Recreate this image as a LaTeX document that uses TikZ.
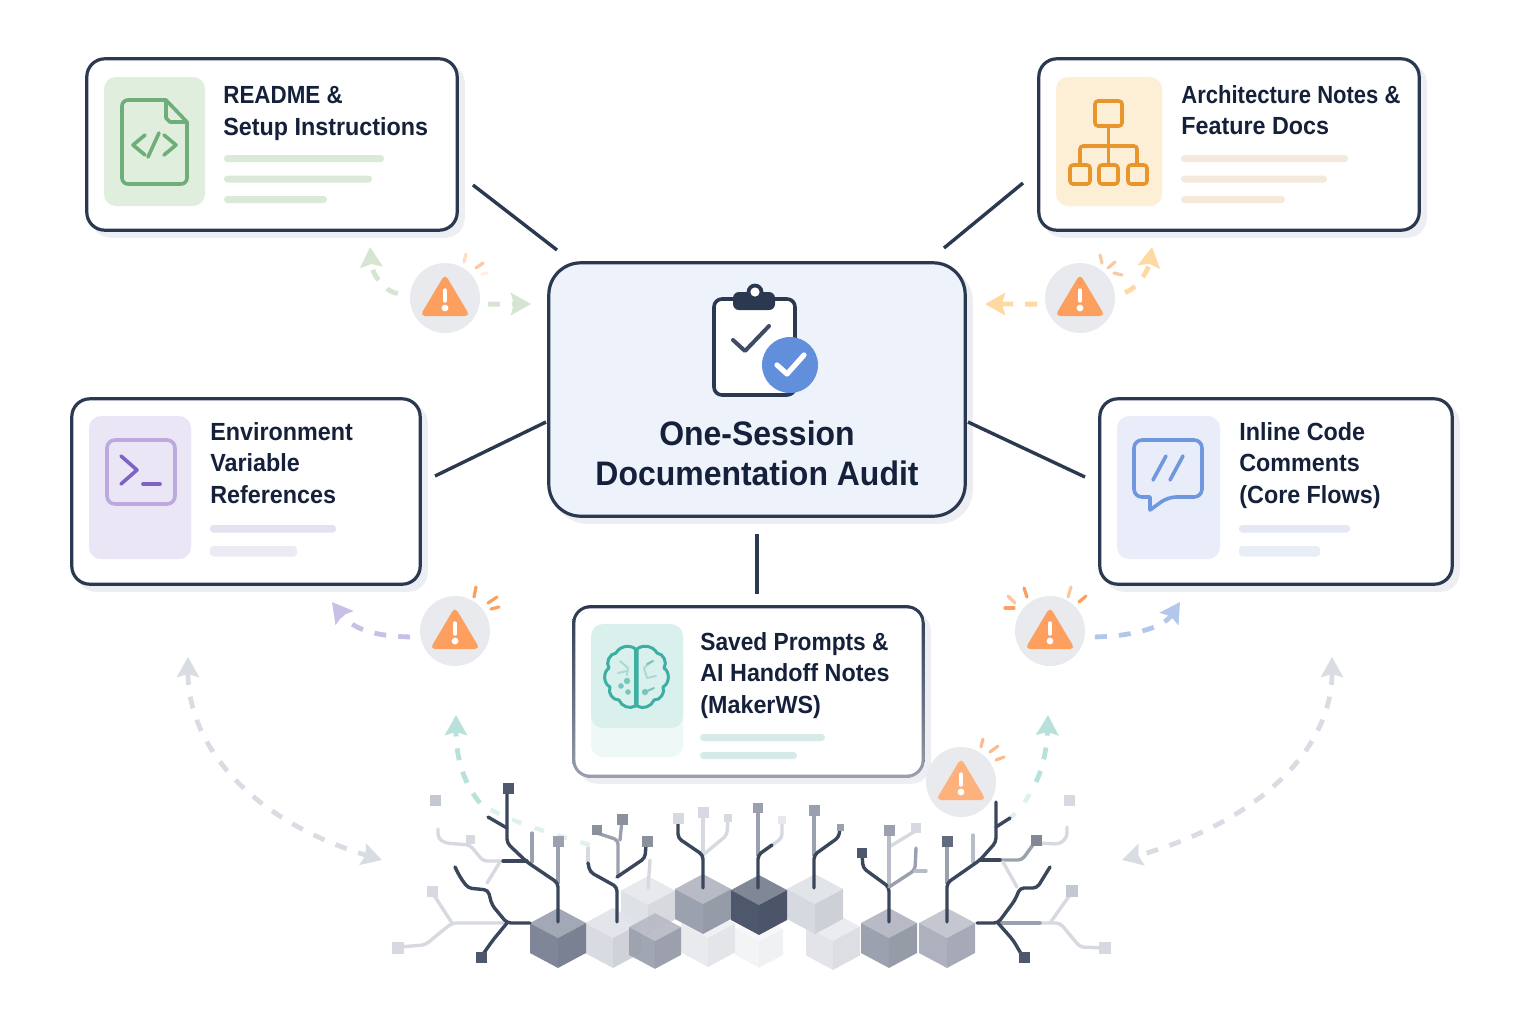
\documentclass[tikz,border=0pt]{standalone}
\usepackage{fontspec}
\setmainfont{Liberation Sans}[FakeStretch=0.94]
\usetikzlibrary{arrows.meta,shadows}
\definecolor{navy}{HTML}{2A3850}
\definecolor{inktext}{HTML}{15213A}
\definecolor{auditfill}{HTML}{EEF2FB}
\definecolor{cardshade}{HTML}{ECEEF3}
\definecolor{badgegray}{HTML}{E8EAEE}
\definecolor{warnorange}{HTML}{FD9F5E}
\definecolor{rayorange}{HTML}{FBC8A2}
\definecolor{leafgreen}{HTML}{6FAE78}
\definecolor{tilegreen}{HTML}{DFEEDD}
\definecolor{bargreen}{HTML}{DBE9D8}
\definecolor{flowgreen}{HTML}{D5E5D2}
\definecolor{amber}{HTML}{E8952B}
\definecolor{tileamber}{HTML}{FDEFD6}
\definecolor{baramber}{HTML}{F4E9DA}
\definecolor{flowamber}{HTML}{FED9A2}
\definecolor{violet}{HTML}{7F63C4}
\definecolor{violetsoft}{HTML}{BBA9E0}
\definecolor{tileviolet}{HTML}{EBE6F6}
\definecolor{barviolet}{HTML}{E4E2EF}
\definecolor{flowviolet}{HTML}{C9BFE7}
\definecolor{skyblue}{HTML}{6F97DE}
\definecolor{tilesky}{HTML}{E8EDF9}
\definecolor{barsky}{HTML}{E3E8F3}
\definecolor{flowsky}{HTML}{B2C7EB}
\definecolor{teal}{HTML}{3DAEA2}
\definecolor{tileteal}{HTML}{DAF0ED}
\definecolor{barteal}{HTML}{D6EBE8}
\definecolor{flowteal}{HTML}{B8E1DB}
\definecolor{flowgray}{HTML}{D9DCE3}
\definecolor{checkblue}{HTML}{618FDC}
\definecolor{twigdark}{HTML}{3A465C}
\definecolor{twigmid}{HTML}{9AA0AE}
\definecolor{twiglight}{HTML}{D6D9E0}
\definecolor{cubedark}{HTML}{4E586C}
\definecolor{cubeslate}{HTML}{7E8698}
\definecolor{cubemid}{HTML}{9CA1AF}
\definecolor{cubesoft}{HTML}{ADB1BE}
\tikzset{
  card/.style={draw=navy,fill=white,line width=1.6pt,rounded corners=9pt,inner sep=0pt,
    copy shadow={shadow xshift=3pt,shadow yshift=-3pt,fill=cardshade,draw=cardshade}},
  cardtext/.style={inner sep=0pt,align=left,text=inktext,font=\bfseries\fontsize{12.4}{15.75}\selectfont},
  link/.style={draw=navy,line width=1.7pt},
  flow/.style={line width=2.4pt,dash pattern=on 6pt off 6pt,-{Stealth[inset=1.5pt,length=10pt,width=11pt]}},
  flowtail/.style={line width=2.2pt,dash pattern=on 5pt off 7pt},
  badge/.style={circle,fill=badgegray,minimum size=35pt,inner sep=0pt},
  ray/.style={draw=rayorange,line width=1.6pt,line cap=round},
  twig/.style={line width=1.7pt,line join=round,line cap=round,rounded corners=2pt},
  iconline/.style={line width=1.8pt,line join=round,line cap=round}
}
\newcommand{\cubeblock}[5]{% x, y, half width, colour, opacity
  \fill[#4!72!white,opacity=#5] (#1,{#2-1.07*#3}) -- ({#1+#3},{#2-.535*#3}) -- (#1,#2) -- ({#1-#3},{#2-.535*#3}) -- cycle;
  \fill[#4,opacity=#5] ({#1-#3},{#2-.535*#3}) -- (#1,#2) -- (#1,{#2+1.07*#3}) -- ({#1-#3},{#2+.535*#3}) -- cycle;
  \fill[#4!96!black,opacity=#5] ({#1+#3},{#2-.535*#3}) -- (#1,#2) -- (#1,{#2+1.07*#3}) -- ({#1+#3},{#2+.535*#3}) -- cycle;
}
\newcommand{\leafbox}[4]{\fill[#1] ({#2-#4},{#3-#4}) rectangle ({#2+#4},{#3+#4});}
\newcommand{\warnmark}[3]{% triangle colour, badge centre
  \fill[#1,rounded corners=2.5pt] (#2,#3-24) -- (#2+25,#3+18) -- (#2-25,#3+18) -- cycle;
  \draw[white,line width=1.7pt,line cap=round] (#2,#3-8) -- (#2,#3+3);
  \fill[white] (#2,#3+10) circle (1.7pt);
}
\begin{document}
\begin{tikzpicture}[x=0.5pt,y=-0.5pt]
\useasboundingbox (0,0) rectangle (1536,1024);

% flows behind everything
\coordinate (leftfar) at (188,657); \coordinate (leftgrid) at (382,860);
\coordinate (rightfar) at (1332,657); \coordinate (rightgrid) at (1122,860);
\draw[flow,flowgray,{Stealth[inset=1.5pt,length=10pt,width=11pt]}-{Stealth[inset=1.5pt,length=10pt,width=11pt]}] (leftfar) .. controls (188,745) and (250,820) .. (leftgrid);
\draw[flow,flowgray,{Stealth[inset=1.5pt,length=10pt,width=11pt]}-{Stealth[inset=1.5pt,length=10pt,width=11pt]}] (rightfar) .. controls (1332,745) and (1265,820) .. (rightgrid);
\coordinate (tealleft) at (456,715); \coordinate (tealleftmid) at (480,803); \coordinate (tealleftend) at (590,845);
\coordinate (tealright) at (1048,715); \coordinate (tealrightmid) at (1036,782); \coordinate (tealrightend) at (1008,820);
\draw[flow,flowteal] (tealleftmid) .. controls (465,785) and (456,760) .. (tealleft);
\draw[flowtail,flowteal!45] (tealleftend) .. controls (540,830) and (505,820) .. (tealleftmid);
\draw[flow,flowteal] (tealrightmid) .. controls (1044,765) and (1047,745) .. (tealright);
\draw[flowtail,flowteal!45] (tealrightend) .. controls (1022,808) and (1030,795) .. (tealrightmid);

% cubes
\begin{scope}
\cubeblock{708}{938}{27}{twiglight}{.55}
\cubeblock{759}{942}{24}{twiglight}{.3}
\cubeblock{833}{941}{27}{twiglight}{.7}
\cubeblock{648}{905}{27}{twiglight}{.8}
\cubeblock{613}{938}{28}{twiglight}{.95}
\cubeblock{655}{941}{26}{cubemid}{.95}
\cubeblock{703}{904}{28}{cubemid}{1}
\cubeblock{815}{904}{28}{twiglight}{1}
\cubeblock{759}{905}{28}{cubedark}{1}
\cubeblock{558}{938}{28}{cubeslate}{1}
\cubeblock{889}{938}{28}{cubemid}{1}
\cubeblock{947}{938}{28}{cubesoft}{1}
\end{scope}

% left side twigs
\begin{scope}
\draw[twig,twiglight] (503,861) -- (483,861) -- (470,845) -- (445,843) -- (438,838) -- (438,829);
\draw[twig,twiglight] (500,862) -- (487,883);
\draw[twig,twiglight] (507,923) -- (452,923) -- (425,945) -- (398,947);
\draw[twig,twiglight] (452,923) -- (432,892);
\draw[twig,twigmid] (532,862) -- (532,833);
\draw[twig,twigmid] (558,883) -- (558,845);
\draw[twig,twigdark] (558,922) -- (558,883) -- (527,862) -- (507,843) -- (507,793);
\draw[twig,twigdark] (507,828) -- (488,817);
\draw[twig,twigdark] (527,861) -- (503,861);
\draw[twig,twigdark] (530,923) -- (507,923) -- (492,905) -- (488,890) -- (468,888) -- (460,877) -- (455,867);
\draw[twig,twigdark] (507,923) -- (493,940) -- (481,957);
\leafbox{twigdark!90}{508}{788}{5.5} \leafbox{twigmid}{558}{841}{5.5} \leafbox{twiglight}{470}{839}{4.5}
\leafbox{twiglight!70!twigmid}{435}{800}{5.5} \leafbox{twiglight}{432}{891}{5.5} \leafbox{twiglight}{398}{948}{6}
\leafbox{twigdark!90}{481}{957}{5.5}
\end{scope}

% twigs over the cubes
\begin{scope}
\draw[twig,twigmid] (618,877) -- (618,840) -- (597,833);
\draw[twig,twigmid] (620,840) -- (622,820);
\draw[twig,twiglight] (588,863) -- (588,848);
\draw[twig,twigdark] (617,922) -- (617,887) -- (590,872) -- (588,863);
\draw[twig,twigdark] (617,877) -- (645,858) -- (646,845);
\draw[twig,twiglight] (648,888) -- (650,860);
\draw[twig,twiglight] (703,855) -- (727,835) -- (728,818);
\draw[twig,twiglight] (703,855) -- (703,812);
\draw[twig,twigdark] (703,888) -- (703,855) -- (678,838) -- (678,818);
\draw[twig,twiglight] (758,855) -- (782,838) -- (782,820);
\draw[twig,twigmid] (758,855) -- (758,808);
\draw[twig,twigdark] (758,888) -- (758,855) -- (772,845);
\draw[twig,twigmid] (814,855) -- (814,810);
\draw[twig,twigdark] (814,888) -- (814,855) -- (839,837) -- (840,827);
\leafbox{twigmid!90!black}{597}{830}{5} \leafbox{twigmid!90!black}{622}{819}{5.5} \leafbox{twigmid!90!black}{647}{841}{5.5}
\leafbox{twiglight}{678}{818}{5.5} \leafbox{twiglight}{703}{812}{5.5} \leafbox{twiglight}{728}{818}{4}
\leafbox{twigmid}{758}{808}{5} \leafbox{twiglight!60}{782}{820}{4} \leafbox{twigmid}{814}{810}{5.5}
\leafbox{twigmid}{840}{827}{3.5}
\end{scope}

% right side twigs
\begin{scope}
\draw[twig,twiglight] (889,847) -- (917,830);
\draw[twig,twigmid!70!white] (889,887) -- (889,830);
\draw[twig,twigdark] (889,922) -- (889,887) -- (863,868) -- (862,853);
\draw[twig,twigmid] (889,887) -- (915,870) -- (916,848);
\draw[twig,twigmid!70!white] (915,871) -- (926,871);
\draw[twig,twigmid] (947,883) -- (947,842);
\draw[twig,twigmid!70!white] (973,862) -- (973,835);
\draw[twig,twigdark] (947,922) -- (947,883) -- (980,860) -- (996,842) -- (996,802);
\draw[twig,twigdark] (996,827) -- (1010,818);
\draw[twig,twiglight] (1036,843) -- (1060,844) -- (1067,837) -- (1067,827);
\draw[twig,twigmid] (1000,860) -- (1022,860) -- (1035,842);
\draw[twig,twigdark] (980,860) -- (1000,860);
\draw[twig,twiglight] (1003,862) -- (1017,887);
\draw[twig,twiglight] (1050,923) -- (1072,892);
\draw[twig,twiglight] (1040,923) -- (1060,923) -- (1080,947) -- (1105,948);
\draw[twig,twigmid] (998,923) -- (1040,923);
\draw[twig,twigdark] (977,923) -- (998,923) -- (1015,900) -- (1020,888) -- (1037,888) -- (1050,867);
\draw[twig,twigdark] (998,923) -- (1013,940) -- (1023,957);
\leafbox{twigdark!90}{862}{853}{5} \leafbox{twigmid}{889}{830}{5.5} \leafbox{twiglight}{916}{828}{5}
\leafbox{twigdark!80}{947}{841}{5.5} \leafbox{twigmid!85!black}{1036}{840}{5.5} \leafbox{twiglight}{1069}{800}{5.5}
\leafbox{twiglight!70!twigmid}{1072}{891}{6} \leafbox{twiglight}{1105}{948}{6} \leafbox{twigdark!90}{1024}{957}{5.5}
\end{scope}

% the cards
\node[card,minimum width=185.2pt,minimum height=85.7pt] (readme) at (272,144.5) {};
\node[card,minimum width=190.2pt,minimum height=85.7pt] (archnotes) at (1229,144.5) {};
\node[card,minimum width=174.2pt,minimum height=92.7pt] (envrefs) at (246,491.5) {};
\node[card,minimum width=176.2pt,minimum height=92.7pt] (inlinedocs) at (1276,491.5) {};
\node[card,minimum width=174.7pt,minimum height=84.7pt] (saved) at (748.5,691.5) {};
\node[card,fill=auditfill,minimum width=208.2pt,minimum height=126.7pt,rounded corners=16pt] (audit) at (757,389.5) {};

% border of the saved card fades out downwards
\shade[top color=navy,bottom color=twigmid,rounded corners=9pt] (572.2,605.2) rectangle (924.8,777.8);
\fill[white,rounded corners=7.4pt] (575.4,608.4) rectangle (921.6,774.6);

% tiles and bars
\fill[tilegreen,rounded corners=6pt] (104,77) rectangle (205,206);
\fill[tileamber,rounded corners=6pt] (1056,77) rectangle (1162,206);
\fill[tileviolet,rounded corners=6pt] (89,416) rectangle (191,559);
\fill[tilesky,rounded corners=6pt] (1117,416) rectangle (1220,559);
\fill[tileteal!45,rounded corners=6pt] (591,650) rectangle (683,757);
\fill[tileteal,rounded corners=6pt] (591,624) rectangle (683,728);
\begin{scope}[rounded corners=1.7pt]
\fill[bargreen] (224,155) rectangle (384,162); \fill[bargreen] (224,175.5) rectangle (372,182.5); \fill[bargreen] (224,196) rectangle (327,203);
\fill[baramber] (1181,155) rectangle (1348,162); \fill[baramber] (1181,175.5) rectangle (1327,182.5); \fill[baramber] (1181,196) rectangle (1285,203);
\fill[barviolet] (210,525) rectangle (336,532.5); \fill[barviolet!70] (210,546) rectangle (297,556.5);
\fill[barsky] (1239,525) rectangle (1350,532.5); \fill[barsky!80] (1239,546) rectangle (1320,556.5);
\fill[barteal] (700,734) rectangle (825,741); \fill[barteal] (700,752) rectangle (797,759);
\end{scope}

% card texts
\node[cardtext,anchor=north west] (readmetext) at (223,86) {\scalebox{.96}[1]{README \&}\\Setup Instructions};
\node[cardtext,anchor=north west] (archtext) at (1181,85) {\scalebox{.945}[1]{Architecture Notes \&}\\Feature Docs};
\node[cardtext,anchor=north west] (envtext) at (210,422) {Environment\\Variable\\References};
\node[cardtext,anchor=north west] (inlinetext) at (1239,422) {Inline Code\\Comments\\(Core Flows)};
\node[cardtext,anchor=north west] (savedtext) at (700,632) {\scalebox{.975}[1]{Saved Prompts \&}\\AI Handoff Notes\\(MakerWS)};
\node[cardtext,align=center,font=\bfseries\fontsize{17}{20}\selectfont] (audittext) at (757,453) {One-Session\\Documentation Audit};

% clipboard
\draw[navy,fill=white,line width=1.8pt,rounded corners=4pt] (714,299) rectangle (795,395);
\fill[navy,rounded corners=3pt] (733,292) rectangle (775,310);
\fill[navy] (755,292) circle (4.2pt); \fill[white] (755,292) circle (2.3pt);
\draw[iconline,navy!90,line width=2pt] (733,340) -- (745,351) -- (769,326);
\fill[checkblue] (790,365) circle (14pt);
\draw[iconline,white,line width=2.6pt] (777,365) -- (787,374) -- (804,355);

% document icon
\draw[iconline,leafgreen,rounded corners=3pt] (166,100) -- (122,100) -- (122,184) -- (187,184) -- (187,122);
\draw[iconline,leafgreen] (166,100) -- (187,122) -- (170,122) -- (166,118) -- cycle;
\draw[iconline,leafgreen] (145,135) -- (133,145) -- (145,155); \draw[iconline,leafgreen] (148,157) -- (159,133);
\draw[iconline,leafgreen] (164,135) -- (176,145) -- (164,155);

% hierarchy icon
\begin{scope}[rounded corners=1.5pt]
\draw[iconline,amber] (1095,101) rectangle (1122,126);
\draw[iconline,amber] (1108.5,126) -- (1108.5,165); \draw[iconline,amber] (1080,165) -- (1080,146) -- (1137,146) -- (1137,165);
\draw[iconline,amber] (1070,165) rectangle (1090,184); \draw[iconline,amber] (1099,165) rectangle (1118,184); \draw[iconline,amber] (1128,165) rectangle (1147,184);
\end{scope}

% prompt icon
\draw[iconline,violetsoft,rounded corners=4pt] (107,440) rectangle (175,504);
\draw[iconline,violet] (121,456) -- (137,470) -- (121,484); \draw[iconline,violet] (143,484) -- (160,484);

% speech icon
\draw[iconline,skyblue,rounded corners=4pt] (1150,497) -- (1134,497) -- (1134,440) -- (1202,440) -- (1202,497) -- (1168,497) [sharp corners] -- (1150,510) -- (1150,497);
\draw[iconline,skyblue] (1153,480) -- (1166,456); \draw[iconline,skyblue] (1170,480) -- (1183,456);

% brain icon
\draw[iconline,teal,line width=1.5pt] (635.5,649) to[bend right=50] (616,653) to[bend right=60] (609,668) to[bend right=60] (610,687) to[bend right=60] (619,700) to[bend right=50] (635.5,706) -- cycle;
\draw[iconline,teal,line width=1.5pt] (637,649) to[bend left=50] (657,653) to[bend left=60] (664,668) to[bend left=60] (663,687) to[bend left=60] (654,700) to[bend left=50] (637,706) -- cycle;
\begin{scope}[teal!70]
\draw[iconline,line width=1pt,teal!45] (620,661) -- (628,668) -- (627,675); \draw[iconline,line width=1pt,teal!45] (618,673) -- (627,671);
\draw[iconline,line width=1pt,teal!45] (652,661) -- (644,668) -- (647,678) -- (656,676);
\fill (627,681) circle (1.6pt); \fill (621,686) circle (1.4pt); \fill (628,692) circle (1.4pt);
\fill (645,692) circle (1.6pt); \draw[iconline,line width=1pt] (645,692) -- (654,688); \draw[iconline,line width=1pt] (647,664) -- (653,661);
\end{scope}

% links, with their free ends
\coordinate (readmeout) at (473,185); \coordinate (auditnw) at (557,250);
\coordinate (archout) at (1023,183); \coordinate (auditne) at (944,248);
\coordinate (envout) at (435,476); \coordinate (auditw) at (546,422);
\coordinate (inlineout) at (1085,477); \coordinate (audite) at (968,422);
\coordinate (savedout) at (757,594); \coordinate (audits) at (757,534);
\draw[link] (readmeout) -- (auditnw); \draw[link] (archout) -- (auditne);
\draw[link] (envout) -- (auditw); \draw[link] (inlineout) -- (audite);
\draw[link] (savedout) -- (audits);

% warning badges
\node[badge] (warnreadme) at (445,298) {}; \warnmark{warnorange}{445}{298}
\node[badge] (warnarch) at (1080,298) {}; \warnmark{warnorange}{1080}{298}
\node[badge] (warnenv) at (455,631) {}; \warnmark{warnorange}{455}{631}
\node[badge] (warninline) at (1050,631) {}; \warnmark{warnorange}{1050}{631}
\node[badge] (warnsaved) at (961,782) {}; \warnmark{warnorange!80!white}{961}{782}
\draw[ray,rayorange!60] (466,254) -- (464,262); \draw[ray] (483,263) -- (476,268); \draw[ray,rayorange!30] (487,273) -- (482,274);
\draw[ray] (1100,255) -- (1102,263); \draw[ray] (1115,262) -- (1108,268); \draw[ray] (1122,275) -- (1114,273);
\draw[ray,warnorange] (476,587) -- (474,597); \draw[ray,warnorange] (497,597) -- (488,603); \draw[ray,warnorange] (499,607) -- (491,609);
\draw[ray] (1008,596) -- (1015,603); \draw[ray,warnorange] (1024,588) -- (1027,597); \draw[ray,warnorange] (1005,608) -- (1014,608);
\draw[ray] (1071,587) -- (1068,597); \draw[ray,warnorange] (1086,596) -- (1079,602);
\draw[ray,warnorange!70!white] (983,739) -- (981,747); \draw[ray,warnorange!70!white] (998,746) -- (990,752); \draw[ray,warnorange!70!white] (1004,757) -- (996,760);

% warning arrows
\coordinate (readmetip) at (370,247); \coordinate (auditgreen) at (531,304);
\coordinate (archtip) at (1152,247); \coordinate (auditamber) at (985,304);
\coordinate (envtip) at (332,602); \coordinate (inlinetip) at (1180,602);
\draw[flow,flowgreen,shorten <=6pt] (warnreadme.175) .. controls (385,292) and (372,275) .. (readmetip);
\draw[flow,flowgreen,shorten <=4pt] (warnreadme.-10) -- (auditgreen);
\draw[flow,flowamber,shorten <=4pt] (warnarch.190) -- (auditamber);
\draw[flow,flowamber,shorten <=5pt] (warnarch.5) .. controls (1135,290) and (1148,272) .. (archtip);
\draw[flow,flowviolet,shorten <=5pt] (warnenv.190) .. controls (365,636) and (350,625) .. (envtip);
\draw[flow,flowsky,shorten <=5pt] (warninline.-10) .. controls (1140,636) and (1165,625) .. (inlinetip);
\end{tikzpicture}
\end{document}
